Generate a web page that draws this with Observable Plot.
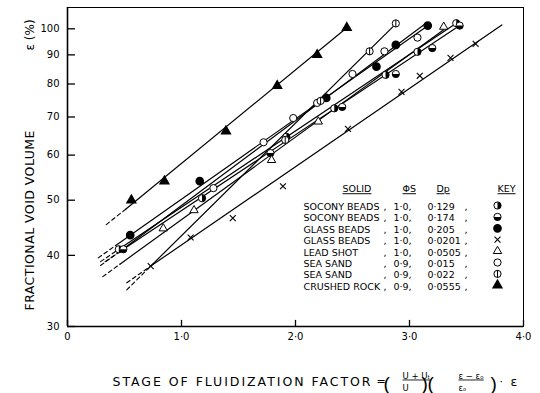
<!DOCTYPE html>
<html><head><meta charset="utf-8">
<script src="https://cdn.jsdelivr.net/npm/d3@7"></script>
<script src="https://cdn.jsdelivr.net/npm/@observablehq/plot@0.6"></script>
<style>body{margin:0;background:#fff} svg{display:block}</style>
</head><body><div id="chart"></div>
<script>
// ---- tick values ----
const xTicks = [0, 1, 2, 3, 4];
const yTicks = [30, 40, 50, 60, 70, 80, 90, 100];

// ---- legend table ----
const solids = ["SOCONY BEADS", "SOCONY BEADS", "GLASS BEADS", "GLASS BEADS", "LEAD SHOT", "SEA SAND", "SEA SAND", "CRUSHED ROCK"];
const phiS = ["1·0", "1·0", "1·0", "1·0", "1·0", "0·9", "0·9", "0·9"];
const dp = ["0·129", "0·174", "0·205", "0·0201", "0·0505", "0·015", "0·022", "0·0555"];

// ---- data points [stage of fluidization factor, void volume %] ----
const soc129Pts = [[0.45,41.0],[1.18,50.4],[1.92,64.6],[2.34,72.5],[2.79,83.0],[3.07,91.1],[3.41,102.3]];
const soc174Pts = [[0.49,41.0],[1.78,60.5],[2.41,72.9],[2.88,83.3],[3.20,92.5],[3.44,101.3]];
const glass205Pts = [[0.55,43.4],[1.16,54.0],[2.27,75.6],[2.71,85.8],[2.88,93.7],[3.16,101.3]];
const glass0201Pts = [[0.73,38.3],[1.08,43.0],[1.45,46.5],[1.89,52.9],[2.46,66.7],[2.93,77.5],[3.09,82.7],[3.36,88.9],[3.58,94.1]];
const leadPts = [[0.84,44.6],[1.11,48.0],[1.79,58.8],[2.20,68.7],[3.30,100.8]];
const sand015Pts = [[1.28,52.5],[1.72,63.2],[1.98,69.7],[2.19,74.1],[2.50,83.3],[2.78,91.3],[3.07,96.5]];
const sand022Pts = [[1.91,63.8],[2.22,74.7],[2.65,91.3],[2.88,102.2]];
const rockPts = [[0.56,50.0],[0.85,54.0],[1.39,66.1],[1.84,79.4],[2.19,90.0],[2.45,100.4]];

// ---- fitted lines: [dashed start, solid start, solid end] ----
const soc129Fit = [[0.29,39.0],[0.45,41.0],[3.41,102.3]];
const soc174Fit = [[0.33,39.0],[0.49,41.0],[3.44,101.3]];
const glass205Fit = [[0.27,39.6],[0.42,41.6],[3.16,101.2]];
const glass0201Fit = [[0.52,35.8],[0.73,38.3],[3.81,101.6]];
const leadFit = [[0.31,36.7],[0.46,38.6],[3.30,99.6]];
const sand015Fit = [[0.29,38.4],[0.45,40.5],[3.13,101.8]];
const sand022Fit = [[0.52,34.8],[0.73,38.3],[2.88,102.0]];
const rockFit = [[0.34,45.3],[0.51,48.2],[2.45,100.4]];

const series = [
  {pts: soc129Pts, fit: soc129Fit, kind: "halfRight"},
  {pts: soc174Pts, fit: soc174Fit, kind: "halfBottom"},
  {pts: glass205Pts, fit: glass205Fit, kind: "filled"},
  {pts: glass0201Pts, fit: glass0201Fit, kind: "times"},
  {pts: leadPts, fit: leadFit, kind: "openTri"},
  {pts: sand015Pts, fit: sand015Fit, kind: "open"},
  {pts: sand022Pts, fit: sand022Fit, kind: "bar"},
  {pts: rockPts, fit: rockFit, kind: "filledTri"}
];

// ---- custom symbols ----
const halfRight = {draw(c, s){const r=Math.sqrt(s/Math.PI); c.moveTo(0,-r); c.arc(0,0,r,-Math.PI/2,Math.PI/2); c.closePath();}};
const halfBottom = {draw(c, s){const r=Math.sqrt(s/Math.PI); c.moveTo(r,0); c.arc(0,0,r,0,Math.PI); c.closePath();}};
const vbar = {draw(c, s){const r=Math.sqrt(s/Math.PI); c.moveTo(0,-r); c.lineTo(0,r);}};

const R = 3.6;
function markerMarks(data, kind, pos) {
  const base = {...pos};
  const open = Plot.dot(data, {...base, r: R, fill: "white", stroke: "black", strokeWidth: 1});
  switch (kind) {
    case "halfRight": return [open, Plot.dot(data, {...base, r: R, symbol: halfRight, fill: "black", stroke: "none"})];
    case "halfBottom": return [open, Plot.dot(data, {...base, r: R, symbol: halfBottom, fill: "black", stroke: "none"})];
    case "filled": return [Plot.dot(data, {...base, r: R, fill: "black", stroke: "black"})];
    case "times": return [Plot.dot(data, {...base, r: 2.8, symbol: "times", fill: "none", stroke: "black", strokeWidth: 1.1})];
    case "openTri": return [Plot.dot(data, {...base, r: 3.1, symbol: "triangle", fill: "white", stroke: "black", strokeWidth: 1})];
    case "open": return [open];
    case "bar": return [open, Plot.dot(data, {...base, r: R, symbol: vbar, fill: "none", stroke: "black", strokeWidth: 1})];
    case "filledTri": return [Plot.dot(data, {...base, r: 3.2, symbol: "triangle", fill: "black", stroke: "black"})];
  }
}

const XY = {x: d => d[0], y: d => d[1]};
const ML = 67, MT = 7;
function lab(text, px, py, o = {}) {
  return Plot.text([text], {frameAnchor: "top-left", dx: px - ML, dy: py - MT, fill: "black", ...o});
}

const xTitle = "STAGE OF FLUIDIZATION FACTOR";
const yTitle = "FRACTIONAL VOID VOLUME";
const underlined = new Set(["SOLID", "ΦS", "Dp", "KEY", "U + Uₜ", "ε − εₒ"]);

const rowY = i => 205 + 11.4 * i;
const tbl = {fontSize: 9.5, textAnchor: "start", lineHeight: 1.2, lineAnchor: "top"};
const paren = {fontSize: 19, fontFamily: "Liberation Sans", fontWeight: 300};

const marks = [
  Plot.frame({stroke: "black", strokeWidth: 1}),
  Plot.ruleX([0], {stroke: "black", strokeWidth: 1.6}),
  Plot.ruleY([30], {stroke: "black", strokeWidth: 1.6}),
  Plot.ruleY(yTicks, {y: d => d, x1: 0, x2: 0.07, stroke: "black", strokeWidth: 1.3}),
  Plot.ruleX(xTicks, {x: d => d, y1: 30, y2: 30.75, stroke: "black", strokeWidth: 1.3}),
  Plot.axisX(xTicks, {tickSize: 0, tickPadding: 6, fontSize: 10,
    tickFormat: d => d === 0 ? "0" : d3.format(".1f")(d).replace(".", "·"), label: null}),
  Plot.axisY(yTicks, {tickSize: 0, tickPadding: 8, fontSize: 10, tickFormat: d => String(d), label: null}),
  // fitted lines
  ...series.flatMap(s => [
    Plot.line(s.fit.slice(0, 2), {...XY, stroke: "black", strokeWidth: 1.1, strokeDasharray: "4,3"}),
    Plot.line(s.fit.slice(1), {...XY, stroke: "black", strokeWidth: 1.2})
  ]),
  // markers
  ...series.flatMap(s => markerMarks(s.pts, s.kind, XY)),
  // legend table
  lab("SOLID", 342, 185, {fontSize: 9.5}),
  lab("ΦS", 402, 185, {fontSize: 9.5}),
  lab("Dp", 436, 185, {fontSize: 9.5}),
  lab("KEY", 497, 185, {fontSize: 9.5}),
  lab(solids.join("\n"), 303, 201.5, tbl),
  lab(solids.map(() => ",").join("\n"), 383, 201.5, tbl),
  lab(phiS.map(v => v + ",").join("\n"), 393, 201.5, tbl),
  lab(dp.join("\n"), 427, 201.5, tbl),
  lab(dp.map(() => ",").join("\n"), 464, 201.5, tbl),
  ...series.flatMap((s, i) => markerMarks([0], s.kind, {frameAnchor: "top-left", dx: 497 - ML, dy: rowY(i) - MT})),
  // axis titles
  lab(yTitle, 25, 310, {fontSize: 12.5, rotate: -90, textAnchor: "start"}),
  lab("ε (%)", 25, 50, {fontSize: 12, rotate: -90}),
  lab(xTitle, 112, 377, {fontSize: 12.5, textAnchor: "start"}),
  lab("=", 376, 377, {fontSize: 11}),
  lab("(", 383, 376, paren),
  lab("U + Uₜ", 402, 372, {fontSize: 8.5}),
  lab("U", 402, 384, {fontSize: 8.5}),
  lab(")", 421, 376, paren),
  lab("(", 427, 376, paren),
  lab("ε − εₒ", 458, 372, {fontSize: 8.5}),
  lab("εₒ", 458, 384, {fontSize: 8.5}),
  lab(")", 490, 376, paren),
  lab("·", 499, 377, {fontSize: 11}),
  lab("ε", 510, 377, {fontSize: 12.5})
];

const svg = Plot.plot({
  width: 540, height: 393,
  marginLeft: ML, marginRight: 17, marginTop: MT, marginBottom: 67,
  x: {domain: [0, 4]},
  y: {type: "log", domain: [30, 109]},
  style: {fontFamily: "DejaVu Sans, sans-serif", fontSize: "10px", background: "white", color: "black"},
  marks
});

d3.select(svg).selectAll("text").each(function() {
  const t = this.textContent;
  if (underlined.has(t)) this.setAttribute("text-decoration", "underline");
  if (t === xTitle) { this.setAttribute("textLength", 258); this.setAttribute("lengthAdjust", "spacing"); }
  if (t === yTitle) { this.setAttribute("textLength", 180); this.setAttribute("lengthAdjust", "spacing"); }
});

document.getElementById("chart").appendChild(svg);
</script>
</body></html>
